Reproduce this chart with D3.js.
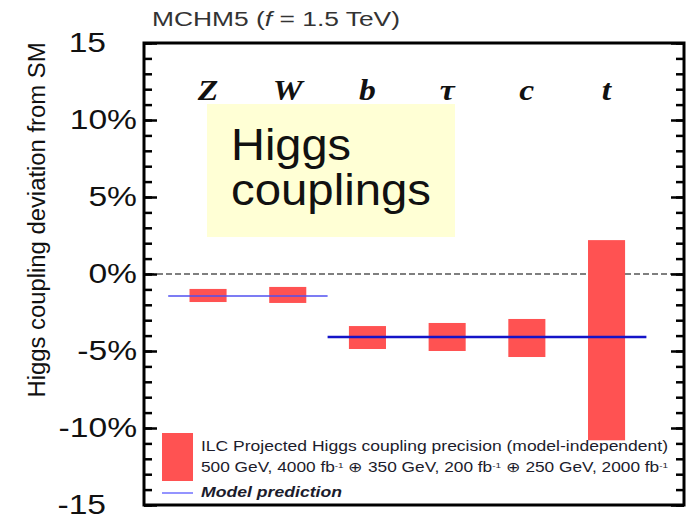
<!DOCTYPE html>
<html>
<head>
<meta charset="utf-8">
<script src="https://cdn.jsdelivr.net/npm/d3@7"></script>
<style>
  html, body { margin: 0; padding: 0; background: #fff; }
  svg { display: block; }
  text { font-family: "Liberation Sans", Arial, sans-serif; }
</style>
</head>
<body>
<svg id="chart" width="688" height="515"></svg>
<script>
// ---- data ----
const categories = ["Z", "W", "b", "τ", "c", "t"];
const precisionLow = [-1.82, -1.88, -4.87, -5.0, -5.39, -10.8];
const precisionHigh = [-0.97, -0.84, -3.38, -3.18, -2.92, 2.2];
const modelGroups = [["Z", "W"], ["b", "τ", "c", "t"]];
const modelValues = [-1.43, -4.09];
const yMajorTicks = [-15, -10, -5, 0, 5, 10, 15];
const yTickLabels = ["-15", "-10%", "-5%", "0%", "5%", "10%", "15"];
const yMinorTicks = d3.range(-15, 16, 1);

// ---- layout ----
const frame = { left: 144, right: 684, top: 43, bottom: 505 };
const svg = d3.select("#chart");

const x = d3.scaleBand().domain(categories).range([168.2, 646.4]).paddingInner(0).paddingOuter(0);
const y = d3.scaleLinear().domain([-15, 15]).range([frame.bottom, frame.top]);
const barFrac = 0.465;

function fit(sel, w) { sel.attr("textLength", w).attr("lengthAdjust", "spacingAndGlyphs"); }
function stretch(sel, f) {
  sel.each(function () {
    const w = this.getComputedTextLength();
    d3.select(this).attr("textLength", w * f).attr("lengthAdjust", "spacingAndGlyphs");
  });
}

// title
const title = svg.append("text").attr("x", 152).attr("y", 26)
  .attr("font-size", 20).attr("fill", "#333");
title.append("tspan").text("MCHM5 (");
title.append("tspan").attr("font-style", "italic").text("f");
title.append("tspan").text(" = 1.5 TeV)");
fit(title, 248);

// yellow annotation box
svg.append("rect").attr("x", 207).attr("y", 104).attr("width", 248).attr("height", 133)
  .attr("fill", "#ffffd5");
const h1 = svg.append("text").attr("x", 231).attr("y", 160).attr("font-size", 44).attr("fill", "#111").text("Higgs");
fit(h1, 120);
const h2 = svg.append("text").attr("x", 231).attr("y", 205).attr("font-size", 44).attr("fill", "#111").text("couplings");
fit(h2, 200);

// zero dashed line
svg.append("line").attr("x1", frame.left + 4).attr("x2", frame.right - 4)
  .attr("y1", y(0)).attr("y2", y(0))
  .attr("stroke", "#555").attr("stroke-width", 1.5).attr("stroke-dasharray", "6,3");

// bars
const rows = categories.map((c, i) => ({ c, lo: precisionLow[i], hi: precisionHigh[i] }));
svg.append("g").selectAll("rect").data(rows).join("rect")
  .attr("x", d => x(d.c) + x.bandwidth() * (1 - barFrac) / 2)
  .attr("width", x.bandwidth() * barFrac)
  .attr("y", d => y(d.hi))
  .attr("height", d => y(d.lo) - y(d.hi))
  .attr("fill", "#ff5252");

// model prediction lines
const modelStyles = [{ stroke: "#5050f0", w: 1.6 }, { stroke: "#1414c8", w: 2.4 }];
modelGroups.forEach((g, i) => {
  svg.append("line")
    .attr("x1", x(g[0])).attr("x2", x(g[g.length - 1]) + x.bandwidth())
    .attr("y1", y(modelValues[i])).attr("y2", y(modelValues[i]))
    .attr("stroke", modelStyles[i].stroke).attr("stroke-width", modelStyles[i].w);
});

// category labels
svg.append("g").selectAll("text").data(categories).join("text")
  .attr("x", d => x(d) + x.bandwidth() / 2)
  .attr("y", 100)
  .attr("text-anchor", "middle")
  .style("font-family", "'Liberation Serif', 'Times New Roman', serif")
  .attr("font-weight", "bold").attr("font-style", "italic")
  .attr("font-size", 30).attr("fill", "#111")
  .text(d => d)
  .call(stretch, 1.12);

// axes ticks (inward, both sides)
function tickAxis(axisFn, xPos, values, size) {
  const g = svg.append("g").attr("transform", `translate(${xPos},0)`)
    .call(axisFn(y).tickValues(values).tickSize(size).tickFormat(""));
  g.select(".domain").remove();
  g.selectAll("line").attr("stroke", "#000").attr("stroke-width", 2.5);
}
tickAxis(d3.axisRight, frame.left, yMinorTicks, 8);
tickAxis(d3.axisRight, frame.left, yMajorTicks, 13);
tickAxis(d3.axisLeft, frame.right, yMinorTicks, 8);
tickAxis(d3.axisLeft, frame.right, yMajorTicks, 13);

// tick labels
const labG = svg.append("g").attr("transform", `translate(${frame.left},0)`)
  .call(d3.axisLeft(y).tickValues(yMajorTicks).tickSize(0).tickPadding(7)
    .tickFormat((d, i) => yTickLabels[i]));
labG.select(".domain").remove();
labG.selectAll("text").attr("font-size", 28).attr("fill", "#111")
  .style("font-family", "'Liberation Sans', Arial, sans-serif")
  .call(stretch, 1.2)
  .attr("dx", (d, i) => (yTickLabels[i].includes("%") ? 0 : -31));

// frame
svg.append("rect").attr("x", frame.left).attr("y", frame.top)
  .attr("width", frame.right - frame.left).attr("height", frame.bottom - frame.top)
  .attr("fill", "none").attr("stroke", "#000").attr("stroke-width", 3);

// y-axis title
svg.append("text")
  .attr("transform", "translate(45,220) rotate(-90)")
  .attr("text-anchor", "middle").attr("font-size", 23).attr("fill", "#111")
  .text("Higgs coupling deviation from SM")
  .call(fit, 355);

// legend
svg.append("rect").attr("x", 162).attr("y", 433).attr("width", 31).attr("height", 48).attr("fill", "#ff5252");
svg.append("line").attr("x1", 162).attr("x2", 193).attr("y1", 493).attr("y2", 493)
  .attr("stroke", "#7070ff").attr("stroke-width", 1.5);
const l1 = svg.append("text").attr("x", 201).attr("y", 451).attr("font-size", 14).attr("fill", "#1c1c2c")
  .text("ILC Projected Higgs coupling precision (model-independent)");
fit(l1, 467);
const l2 = svg.append("text").attr("x", 201).attr("y", 472).attr("font-size", 14).attr("fill", "#1c1c2c");
const parts = ["500 GeV, 4000 fb", " ⊕ 350 GeV, 200 fb", " ⊕ 250 GeV, 2000 fb"];
parts.forEach((p, i) => {
  const t = l2.append("tspan").text(p);
  if (i > 0) t.attr("dy", 4);
  l2.append("tspan").attr("font-size", 8).attr("dy", -4).text("-1");
});
fit(l2, 467);
const l3 = svg.append("text").attr("x", 201).attr("y", 497).attr("font-size", 14)
  .attr("font-weight", "bold").attr("font-style", "italic").attr("fill", "#1c1c2c")
  .text("Model prediction");
fit(l3, 141);
</script>
</body>
</html>
